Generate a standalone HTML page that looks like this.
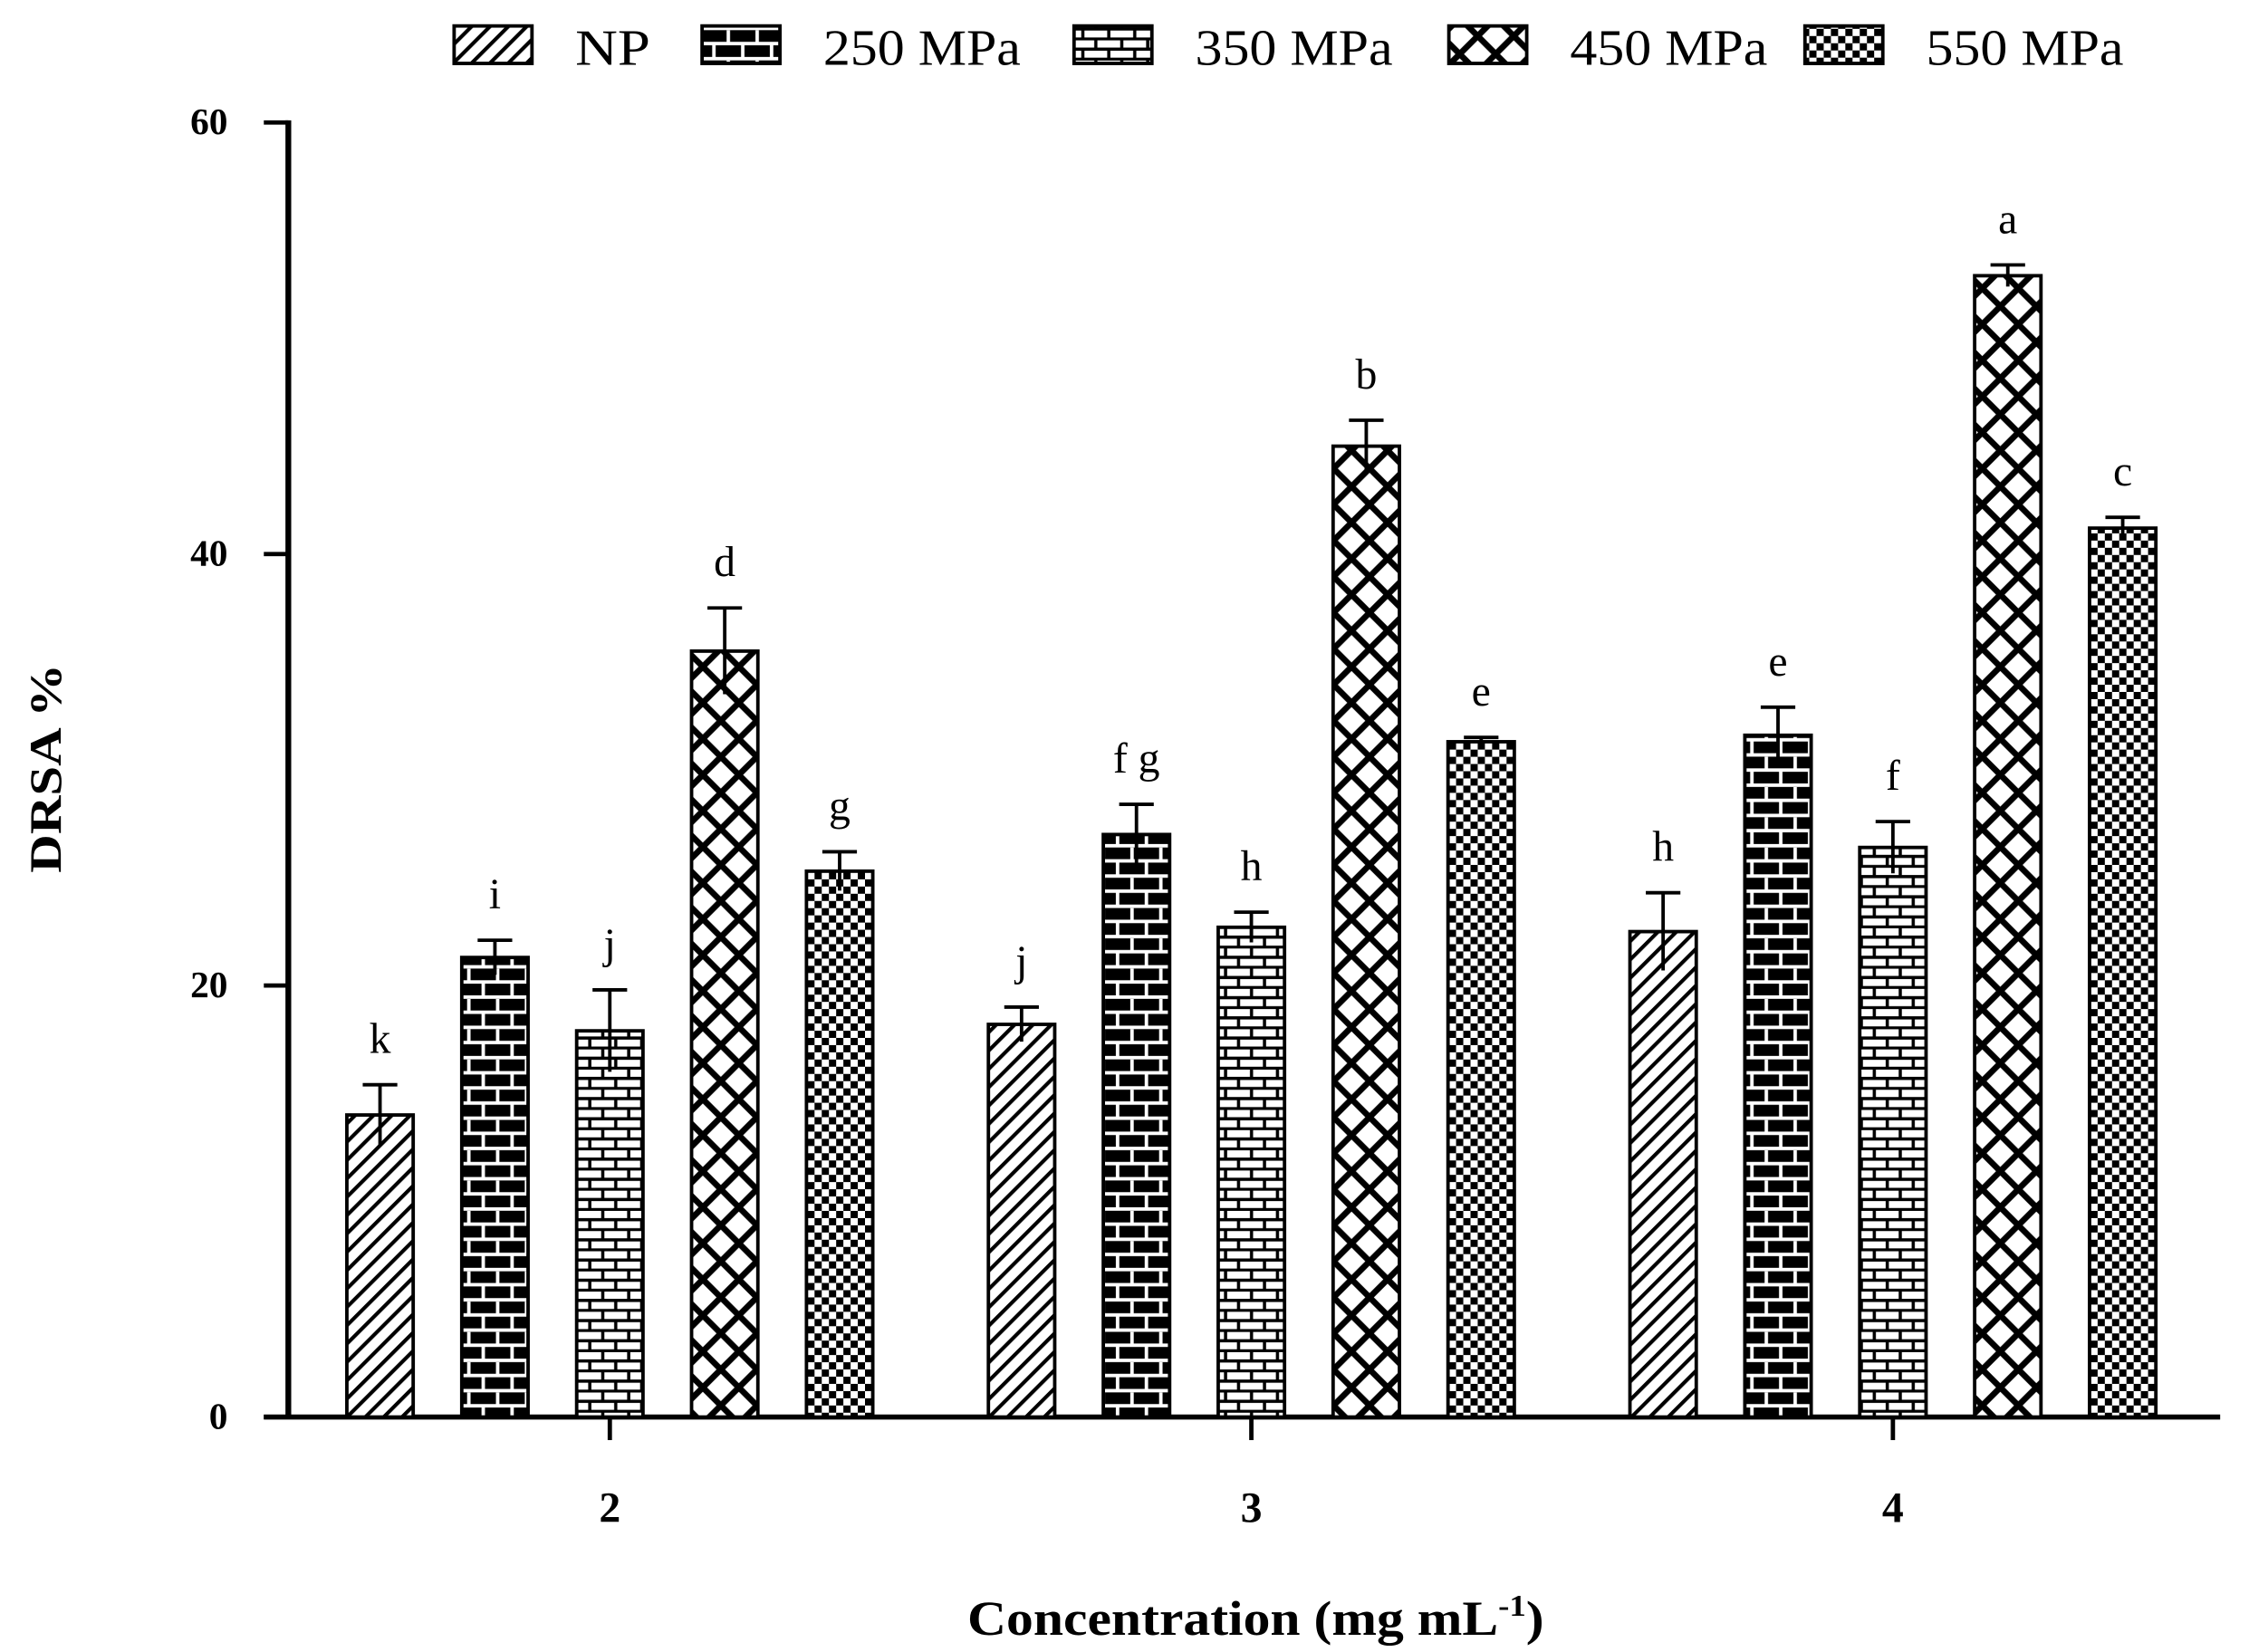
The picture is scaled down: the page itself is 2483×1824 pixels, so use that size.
<!DOCTYPE html>
<html><head><meta charset="utf-8"><style>
html,body{margin:0;padding:0;background:#fff;}
svg{display:block;}
text{font-family:"Liberation Serif",serif;fill:#000;}
</style></head><body>
<svg id="chart" width="2483" height="1824" viewBox="0 0 1560 1146" preserveAspectRatio="none" xmlns="http://www.w3.org/2000/svg">
<defs>
<pattern id="p-np" patternUnits="userSpaceOnUse" width="9" height="9" patternTransform="rotate(45)">
  <rect width="9" height="9" fill="#fff"/><rect x="0" y="0" width="2.6" height="9" fill="#000"/>
</pattern>
<pattern id="p-250" patternUnits="userSpaceOnUse" width="20" height="21">
  <rect width="20" height="21" fill="#000"/>
  <rect x="0" y="8" width="20" height="2.4" fill="#fff"/>
  <rect x="0" y="18.5" width="20" height="2.4" fill="#fff"/>
  <rect x="4" y="0" width="2.4" height="9" fill="#fff"/>
  <rect x="14" y="10" width="2.4" height="9" fill="#fff"/>
</pattern>
<pattern id="p-350" patternUnits="userSpaceOnUse" width="18" height="14">
  <rect width="18" height="14" fill="#fff"/>
  <rect x="0" y="5" width="18" height="2.2" fill="#000"/>
  <rect x="0" y="12" width="18" height="2.2" fill="#000"/>
  <rect x="3" y="0" width="2.2" height="6" fill="#000"/>
  <rect x="12" y="7" width="2.2" height="6" fill="#000"/>
</pattern>
<pattern id="p-450" patternUnits="userSpaceOnUse" width="25" height="25">
  <rect width="25" height="25" fill="#fff"/>
  <path d="M-3,-3 L28,28 M-3,28 L28,-3 M-15.5,9.5 L9.5,34.5 M15.5,-9.5 L40.5,15.5 M9.5,-15.5 L-15.5,9.5 M40.5,9.5 L15.5,34.5" stroke="#000" stroke-width="4.2"/>
</pattern>
<pattern id="p-550" patternUnits="userSpaceOnUse" width="10" height="10">
  <rect width="10" height="10" fill="#fff"/>
  <rect x="0" y="0" width="5" height="5" fill="#000"/>
  <rect x="5" y="5" width="5" height="5" fill="#000"/>
</pattern>
</defs>
<g id="legend"></g>
<g id="axes"></g>
<g id="bars"></g>
<text transform="translate(42,533) rotate(-90)" text-anchor="middle" font-size="31" font-weight="bold" textLength="145" lengthAdjust="spacingAndGlyphs">DRSA %</text>
<text x="671" y="1134" font-size="34" font-weight="bold" textLength="400" lengthAdjust="spacingAndGlyphs">Concentration (mg mL<tspan dy="-13" font-size="21">-1</tspan><tspan dy="13">)</tspan></text>
</svg>
<script>
const categories = ["2","3","4"];
const seriesNames = ["NP","250 MPa","350 MPa","450 MPa","550 MPa"];
const valNP  = [14.0, 18.2, 22.5];
const val250 = [21.3, 27.0, 31.6];
const val350 = [17.9, 22.7, 26.4];
const val450 = [35.5, 45.0, 52.9];
const val550 = [25.3, 31.3, 41.2];
const errNP  = [1.4, 0.8, 1.8];
const err250 = [0.8, 1.4, 1.3];
const err350 = [1.9, 0.7, 1.2];
const err450 = [2.0, 1.2, 0.5];
const err550 = [0.9, 0.2, 0.5];
const letNP  = ["k","j","h"];
const let250 = ["i","f g","e"];
const let350 = ["j","h","f"];
const let450 = ["d","b","a"];
const let550 = ["g","e","c"];
const yTicks = [0, 20, 40, 60];

const NS = "http://www.w3.org/2000/svg";
const values = [valNP, val250, val350, val450, val550];
const errs = [errNP, err250, err350, err450, err550];
const lets = [letNP, let250, let350, let450, let550];
const pats = ["p-np","p-250","p-350","p-450","p-550"];
const y0 = 983, yTop = 85, yMax = 60;
const yScale = v => y0 - (v / yMax) * (y0 - yTop);
const groupX = i => 423 + i * 445;
const barX = (g, s) => groupX(g) + (s - 2) * 79.7;
const barW = 46;
function mk(tag, attrs, parent) {
  const e = document.createElementNS(NS, tag);
  for (const k in attrs) e.setAttribute(k, attrs[k]);
  parent.appendChild(e);
  return e;
}
const axes = document.getElementById("axes");
const bars = document.getElementById("bars");
const legend = document.getElementById("legend");

for (let s = 0; s < values.length; s++) {
  for (let g = 0; g < categories.length; g++) {
    const v = values[s][g], cx = barX(g, s), top = yScale(v);
    const r = mk("rect", {x: cx - barW/2, y: top, width: barW, height: y0 - top, fill: "url(#" + pats[s] + ")", stroke: "#000", "stroke-width": 2.4}, bars);
    
    
    const et = yScale(v + errs[s][g]), eb = yScale(v - errs[s][g]);
    const el = mk("path", {d: `M${cx},${eb} L${cx},${et} M${cx-12},${et} L${cx+12},${et}`, stroke: "#000", "stroke-width": 2.4, fill: "none"}, bars);
    
    
    const t = mk("text", {x: cx, y: et - 22, "text-anchor": "middle", "font-size": 30}, bars);
    t.textContent = lets[s][g];
    
    
  }
}

const ya = mk("line", {x1: 200, y1: yTop - 1.5, x2: 200, y2: y0, stroke: "#000", "stroke-width": 4}, axes);


const xa = mk("line", {x1: 183, y1: y0, x2: 1540, y2: y0, stroke: "#000", "stroke-width": 3.5}, axes);


yTicks.forEach(v => {
  const y = yScale(v);
  const tk = mk("line", {x1: 183, y1: y, x2: 200, y2: y, stroke: "#000", "stroke-width": 3}, axes);
  
  
  const t = mk("text", {x: 158, y: y + 8, "text-anchor": "end", "font-size": 26, "font-weight": "bold"}, axes);
  t.textContent = v;
  
  
});
categories.forEach((c, i) => {
  const x = groupX(i);
  const tk = mk("line", {x1: x, y1: y0, x2: x, y2: 999, stroke: "#000", "stroke-width": 3}, axes);
  
  
  const t = mk("text", {x: x, y: 1056, "text-anchor": "middle", "font-size": 30, "font-weight": "bold"}, axes);
  t.textContent = c;
  
  
});

const lgX = [315, 487, 745, 1005, 1252];
seriesNames.forEach((n, s) => {
  const sw = mk("rect", {x: lgX[s], y: 18, width: 54, height: 26, fill: "url(#" + pats[s] + ")", stroke: "#000", "stroke-width": 2.4}, legend);
  
  
  const t = mk("text", {x: lgX[s] + 84, y: 45, "font-size": 35, textLength: (s === 0 ? 52 : 137), lengthAdjust: "spacingAndGlyphs"}, legend);
  t.textContent = n;
  
  
});
</script>
</body></html>
